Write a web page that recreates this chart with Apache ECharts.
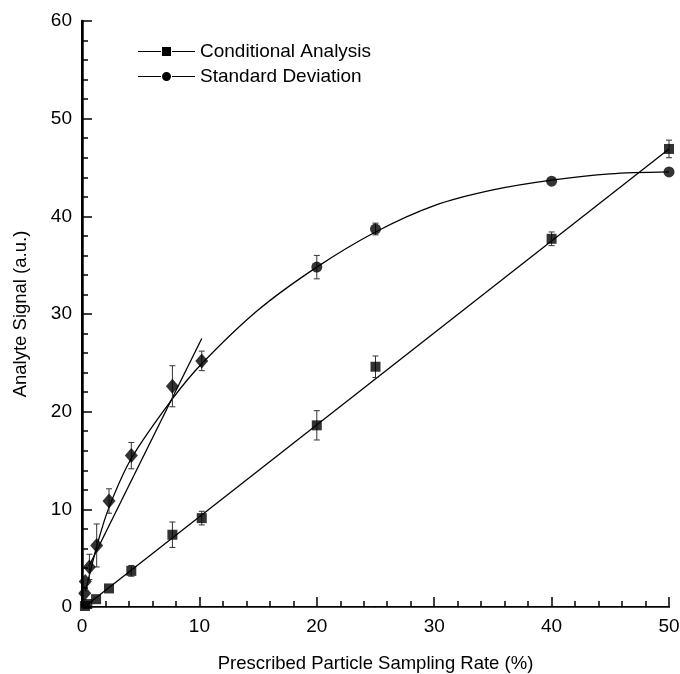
<!DOCTYPE html>
<html>
<head>
<meta charset="utf-8">
<script src="https://cdn.jsdelivr.net/npm/echarts@6/dist/echarts.min.js"></script>
<style>
  html, body { margin: 0; padding: 0; background: #fff; }
  #main { width: 680px; height: 674px; }
</style>
</head>
<body>
<div id="main"></div>
<script>
// Conditional Analysis (squares)
var squareX = [0.25, 0.45, 1.2, 2.3, 4.2, 7.7, 10.2, 20, 25, 40, 50];
var squareY = [0.1, 0.3, 0.8, 1.9, 3.7, 7.4, 9.1, 18.6, 24.6, 37.7, 46.9];
var squareErr = [0, 0, 0, 0, 0.55, 1.3, 0.7, 1.5, 1.1, 0.7, 0.9];
// linear fit through the squares
var squareFit = [[0.3, 0.1], [50, 46.9]];

// Standard Deviation (circles)
var circleX = [20, 25, 40, 50];
var circleY = [34.8, 38.7, 43.6, 44.55];
var circleErr = [1.2, 0.6, 0, 0];

// low-rate points (diamonds)
var diamondX = [0.23, 0.28, 0.63, 1.25, 2.3, 4.2, 7.7, 10.2];
var diamondY = [1.4, 2.6, 4.1, 6.3, 10.85, 15.5, 22.6, 25.2];
var diamondErr = [0, 0, 1.3, 2.2, 1.25, 1.35, 2.1, 1.0];

// curve
var curveX = [0.3, 1.3, 2.3, 4.2, 7.7, 10.2, 15, 20, 25, 30, 35, 40, 45, 50];
var curveY = [1.6, 6.4, 10.2, 15.2, 21.3, 24.9, 30.4, 34.8, 38.4, 41.1, 42.7, 43.7, 44.35, 44.55];
// initial slope line
var slopeLine = [[0.6, 4.2], [10.2, 27.5]];

function pairs(xs, ys) {
    return xs.map(function (x, i) { return [x, ys[i]]; });
}
function errData(xs, ys, es) {
    var out = [];
    for (var i = 0; i < xs.length; i++) {
        if (es[i] > 0) out.push([xs[i], ys[i] - es[i], ys[i] + es[i]]);
    }
    return out;
}

function renderErr(params, api) {
    var top = api.coord([api.value(0), api.value(2)]);
    var bot = api.coord([api.value(0), api.value(1)]);
    var w = 3;
    var style = { stroke: '#333', lineWidth: 1 };
    return {
        type: 'group',
        children: [
            { type: 'line', shape: { x1: top[0], y1: top[1], x2: bot[0], y2: bot[1] }, style: style },
            { type: 'line', shape: { x1: top[0] - w, y1: top[1], x2: top[0] + w, y2: top[1] }, style: style },
            { type: 'line', shape: { x1: bot[0] - w, y1: bot[1], x2: bot[0] + w, y2: bot[1] }, style: style }
        ]
    };
}

var font = '"Liberation Sans", Arial, Helvetica, sans-serif';
var myChart = echarts.init(document.getElementById('main'));

var option = {
    animation: false,
    backgroundColor: '#fff',
    textStyle: { fontFamily: font },
    grid: { left: 82, right: 11, top: 21, bottom: 67, outerBoundsMode: 'none' },
    legend: {
        orient: 'vertical',
        left: 133,
        top: 37,
        itemWidth: 57,
        itemHeight: 10,
        itemGap: 6,
        textStyle: { fontFamily: font, fontSize: 19, color: '#000' },
        data: [
            { name: 'Conditional Analysis', icon: 'path://M0,4.5h23v1H0z M24,0.5h9v9h-9z M34,4.5h23v1H34z' },
            { name: 'Standard Deviation', icon: 'path://M0,4.5h23v1H0z M28.5,0.5a4.5,4.5 0 1,0 0.01,0z M34,4.5h23v1H34z' }
        ]
    },
    xAxis: [{
        type: 'value',
        min: 0, max: 50, interval: 10,
        name: 'Prescribed Particle Sampling Rate (%)',
        nameLocation: 'middle',
        nameGap: 47,
        nameTextStyle: { fontFamily: font, fontSize: 18.5, color: '#000' },
        axisLine: { lineStyle: { color: '#000', width: 2 } },
        axisTick: { inside: true, length: 10, lineStyle: { color: '#000', width: 1.5 } },
        minorTick: { show: true, splitNumber: 5, length: 6, lineStyle: { color: '#000', width: 1.5 } },
        axisLabel: { fontSize: 19, color: '#000', margin: 10, fontFamily: font },
        splitLine: { show: false }
    }, {
        type: 'value', position: 'top', min: 0, max: 50,
        axisLine: { show: true, lineStyle: { color: '#444', width: 1 } },
        axisTick: { show: false }, axisLabel: { show: false }, splitLine: { show: false }
    }],
    yAxis: [{
        type: 'value',
        min: 0, max: 60, interval: 10,
        name: 'Analyte Signal (a.u.)',
        nameLocation: 'middle',
        nameGap: 52,
        nameTextStyle: { fontFamily: font, fontSize: 18.5, color: '#000' },
        axisLine: { show: true, lineStyle: { color: '#000', width: 2 } },
        axisTick: { inside: true, length: 10, lineStyle: { color: '#000', width: 1.5 } },
        minorTick: { show: true, splitNumber: 5, length: 6, lineStyle: { color: '#000', width: 1.5 } },
        axisLabel: { fontSize: 19, color: '#000', margin: 10, fontFamily: font },
        splitLine: { show: false }
    }, {
        type: 'value', position: 'right', min: 0, max: 60,
        axisLine: { show: true, lineStyle: { color: '#000', width: 2.5 } },
        axisTick: { show: false }, axisLabel: { show: false }, splitLine: { show: false }
    }],
    series: [
        {
            name: 'Conditional Analysis',
            type: 'line',
            data: squareFit,
            symbol: 'none',
            lineStyle: { color: '#000', width: 1.3 },
            itemStyle: { color: '#000' },
            z: 2
        },
        {
            name: 'Standard Deviation',
            type: 'line',
            data: pairs(curveX, curveY),
            smooth: 0.3,
            symbol: 'none',
            lineStyle: { color: '#000', width: 1.3 },
            itemStyle: { color: '#000' },
            z: 2
        },
        {
            name: 'slope',
            type: 'line',
            data: slopeLine,
            symbol: 'none',
            lineStyle: { color: '#000', width: 1.3 },
            z: 2
        },
        {
            name: 'errSquares', type: 'custom', renderItem: renderErr,
            data: errData(squareX, squareY, squareErr), z: 3
        },
        {
            name: 'errCircles', type: 'custom', renderItem: renderErr,
            data: errData(circleX, circleY, circleErr), z: 3
        },
        {
            name: 'errDiamonds', type: 'custom', renderItem: renderErr,
            data: errData(diamondX, diamondY, diamondErr), z: 3
        },
        {
            name: 'squares', type: 'scatter', data: pairs(squareX, squareY),
            symbol: 'rect', symbolSize: 10, itemStyle: { color: '#000' }, z: 4
        },
        {
            name: 'circles', type: 'scatter', data: pairs(circleX, circleY),
            symbol: 'circle', symbolSize: 11, itemStyle: { color: '#000' }, z: 4
        },
        {
            name: 'diamonds', type: 'scatter', data: pairs(diamondX, diamondY),
            symbol: 'diamond', symbolSize: [13, 15], itemStyle: { color: '#000' }, z: 4
        }
    ]
};

option && myChart.setOption(option);
window.onresize = myChart.resize;
</script>
</body>
</html>
